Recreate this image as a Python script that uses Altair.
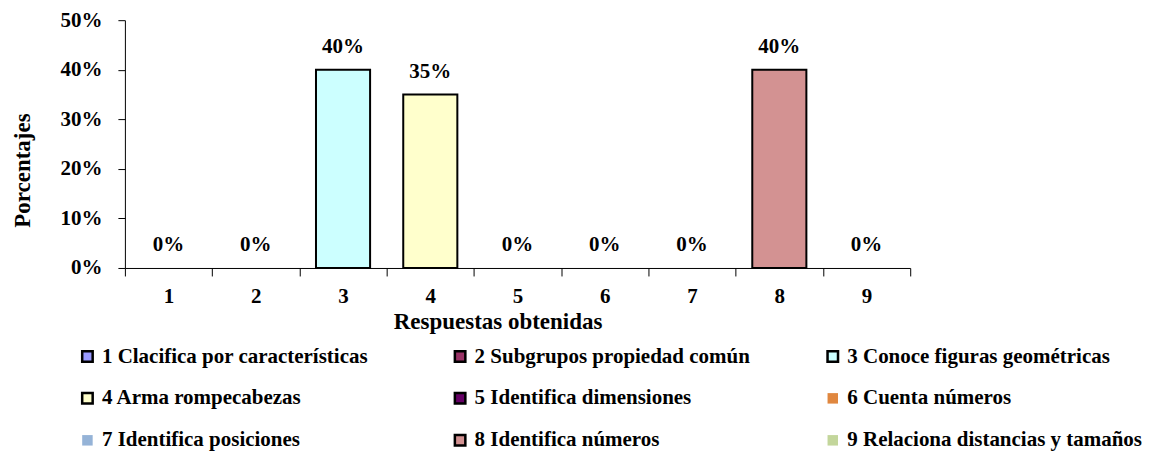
import altair as alt
import pandas as pd

categories = ["1", "2", "3", "4", "5", "6", "7", "8", "9"]
names = [
    "1 Clacifica por características",
    "2 Subgrupos propiedad común",
    "3 Conoce figuras geométricas",
    "4 Arma rompecabezas",
    "5 Identifica dimensiones",
    "6 Cuenta números",
    "7 Identifica posiciones",
    "8 Identifica números",
    "9 Relaciona distancias y tamaños",
]
values = [0.0, 0.0, 0.40, 0.35, 0.0, 0.0, 0.0, 0.40, 0.0]
fills = ["#9999FF", "#993366", "#CCFFFF", "#FFFFCC", "#660066",
         "#E0873F", "#95B3D7", "#D39292", "#C3D69B"]
strokes = ["black", "black", "black", "black", "black",
           "transparent", "transparent", "black", "transparent"]
y_ticks = [0, 0.1, 0.2, 0.3, 0.4, 0.5]

FONT = "Liberation Serif"

df = pd.DataFrame({"cat": categories, "name": names, "value": values})

x_enc = alt.X(
    "cat:N",
    sort=categories,
    scale=alt.Scale(domain=categories, paddingInner=0, paddingOuter=0),
    axis=alt.Axis(
        title="Respuestas obtenidas",
        labelAngle=0,
        tickBand="extent",
        tickSize=8,
        labelPadding=10,
        titleX=373,
        titleY=54,
        titleBaseline="middle",
        titleAlign="center",
    ),
)
y_enc = alt.Y(
    "value:Q",
    scale=alt.Scale(domain=[0, 0.5]),
    axis=alt.Axis(
        title="Porcentajes",
        format=".0%",
        values=y_ticks,
        tickSize=7,
        labelPadding=16,
        grid=False,
        titleX=-102,
        titleY=150,
        titleBaseline="middle",
        titleAlign="center",
    ),
)

bars = alt.Chart(df).transform_filter(
    alt.datum.value > 0
).mark_bar(
    width=alt.RelativeBandSize(0.62), strokeWidth=2
).encode(
    x=x_enc,
    y=y_enc,
    color=alt.Color("name:N", scale=alt.Scale(domain=names, range=fills), title=None),
    stroke=alt.Stroke("name:N", scale=alt.Scale(domain=names, range=strokes), title=None),
)

labels = alt.Chart(df).mark_text(
    dy=-23, fontSize=21, fontWeight="bold", font=FONT, color="black", baseline="middle"
).encode(
    x=alt.X("cat:N", sort=categories),
    y=alt.Y("value:Q"),
    text=alt.Text("value:Q", format=".0%"),
)

chart = alt.layer(bars, labels).properties(
    width=786,
    height=248,
    padding={"left": 117, "top": 12, "right": 240, "bottom": 190},
    autosize=alt.AutoSizeParams(type="none"),
).configure_view(
    stroke=None
).configure_axis(
    labelFont=FONT,
    labelFontSize=21,
    labelFontWeight="bold",
    labelColor="black",
    titleFont=FONT,
    titleFontSize=23,
    titleFontWeight="bold",
    titleColor="black",
    domainColor="black",
    tickColor="black",
    domainWidth=1,
    tickWidth=1,
).configure_legend(
    orient="none",
    legendX=-48,
    legendY=326,
    direction="horizontal",
    columns=3,
    gridAlign="all",
    columnPadding=52,
    rowPadding=20,
    symbolType="square",
    symbolSize=110,
    symbolStrokeWidth=2.5,
    labelFont=FONT,
    labelFontSize=21,
    labelFontWeight="bold",
    labelColor="black",
    labelLimit=600,
    labelOffset=4,
    padding=0,
)

chart.save("out.html", embed_options={"renderer": "svg", "actions": False})
